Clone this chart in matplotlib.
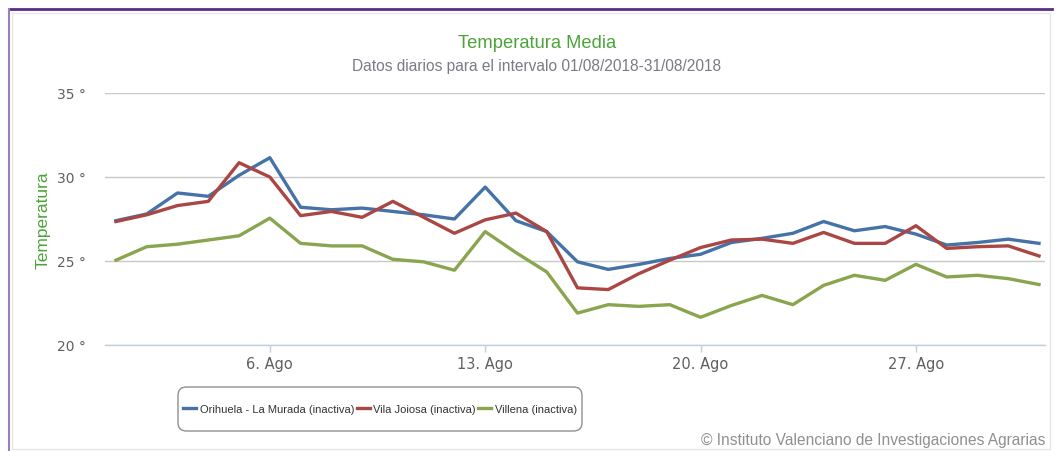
import matplotlib
matplotlib.use("Agg")
import matplotlib.pyplot as plt
from matplotlib.lines import Line2D
from matplotlib.patches import Rectangle, FancyBboxPatch

days = list(range(1, 32))
orihuela = [27.4, 27.8, 29.05, 28.85, 30.1, 31.15, 28.2, 28.05, 28.15, 27.95,
            27.75, 27.5, 29.4, 27.4, 26.75, 24.95, 24.5, 24.8, 25.15, 25.4,
            26.1, 26.35, 26.65, 27.35, 26.8, 27.05, 26.6, 25.95, 26.1, 26.3, 26.05]
vila_joiosa = [27.35, 27.75, 28.3, 28.55, 30.85, 30.0, 27.7, 27.95, 27.6, 28.55,
               27.6, 26.65, 27.45, 27.85, 26.75, 23.4, 23.3, 24.25, 25.05, 25.8,
               26.25, 26.3, 26.05, 26.7, 26.05, 26.05, 27.1, 25.75, 25.85, 25.9, 25.3]
villena = [25.05, 25.85, 26.0, 26.25, 26.5, 27.55, 26.05, 25.9, 25.9, 25.1,
           24.95, 24.45, 26.75, 25.5, 24.35, 21.9, 22.4, 22.3, 22.4, 21.65,
           22.35, 22.95, 22.4, 23.55, 24.15, 23.85, 24.8, 24.05, 24.15, 23.95, 23.6]
series_names = ["Orihuela - La Murada (inactiva)", "Vila Joiosa (inactiva)", "Villena (inactiva)"]
series_colors = ["#4572A7", "#AA4643", "#89A54E"]
yticks = [20, 25, 30, 35]
ytick_labels = ["20 °", "25 °", "30 °", "35 °"]
xticks = [6, 13, 20, 27]
xtick_labels = ["6. Ago", "13. Ago", "20. Ago", "27. Ago"]
title = "Temperatura Media"
subtitle = "Datos diarios para el intervalo 01/08/2018-31/08/2018"
ylabel = "Temperatura"
credits = "© Instituto Valenciano de Investigaciones Agrarias"

W, H = 1055, 452
fig = plt.figure(figsize=(W / 100, H / 100), dpi=100)
plt.rcParams['font.family'] = ['DejaVu Sans']

def fx(px):
    return px / W

def fy(py):
    return 1 - py / H

# outer frame
fig.add_artist(Rectangle((fx(12), fy(450)), fx(1050) - fx(12), fy(14) - fy(450),
                         transform=fig.transFigure, fill=False, edgecolor="#e6e6e6", lw=1))
fig.add_artist(Line2D([fx(9), fx(1052)], [fy(10), fy(10)], transform=fig.transFigure,
                      color="#5b2d86", lw=2))
fig.add_artist(Line2D([fx(9), fx(9)], [fy(10), fy(452)], transform=fig.transFigure,
                      color="#9b7fb8", lw=1.5))

ax = fig.add_axes([fx(105), fy(346), fx(1045) - fx(105), fy(94) - fy(346)])
data = [orihuela, vila_joiosa, villena]
handles = []
for vals, name, col in zip(data, series_names, series_colors):
    h, = ax.plot(days, vals, color=col, lw=2.4, label=name, solid_joinstyle="round", zorder=3)
    handles.append(h)

ax.set_xlim(0.643, 31.195)
ax.set_ylim(20, 35)
ax.set_yticks(yticks)
ax.set_yticklabels(ytick_labels)
ax.set_xticks(xticks)
ax.set_xticklabels(xtick_labels)
for s in ["top", "right", "left"]:
    ax.spines[s].set_visible(False)
ax.spines["bottom"].set_color("#C0D0E0")
ax.spines["bottom"].set_linewidth(1)
ax.yaxis.grid(True, color="#C8C8C8", lw=1)
ax.set_axisbelow(True)
ax.tick_params(axis="y", length=0, pad=14, labelsize=10, labelcolor="#606060")
ax.tick_params(axis="x", length=5, width=1, color="#C0D0E0", pad=3, labelsize=10.5,
               labelcolor="#606060")
ax.set_ylabel(ylabel, color="#4ca33a", fontsize=12.5, fontfamily="Liberation Sans")
ax.yaxis.set_label_coords(fx(51 - 105) / (fx(1045) - fx(105)), 0.5)

fig.text(fx(537), fy(44), title, ha="center", va="center", color="#4ca33a",
         fontsize=13.2, fontfamily="Liberation Sans")
fig.text(fx(537), fy(67), subtitle, ha="center", va="center", color="#7a7a8a",
         fontsize=11.2, fontfamily="Liberation Sans")
fig.text(fx(1045), fy(441), credits, ha="right", va="center", color="#909090",
         fontsize=11.2, fontfamily="Liberation Sans")

# legend box (rounded)
box = FancyBboxPatch((fx(178), fy(432)), fx(582) - fx(178), fy(388) - fy(432),
                     boxstyle="round,pad=0,rounding_size=0.008",
                     transform=fig.transFigure, facecolor="white",
                     edgecolor="#909090", lw=1, mutation_aspect=W / H, zorder=4)
fig.add_artist(box)
leg = fig.legend(handles=handles, labels=series_names, loc="center",
                 bbox_to_anchor=(fx(380), fy(410)), ncol=3, frameon=False,
                 handlelength=1.2, handletextpad=0.3,
                 columnspacing=0.2, prop={"family": "Liberation Sans", "size": 8.0},
                 borderpad=0.2)
leg.set_zorder(5)
for t in leg.get_texts():
    t.set_color("#333333")

fig.savefig("out.png", dpi=100)
